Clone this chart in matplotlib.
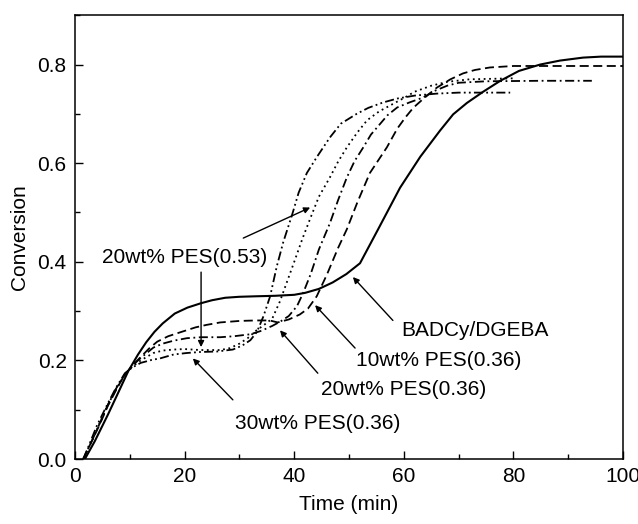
import matplotlib
matplotlib.use('Agg')
from matplotlib import pyplot as plt
from matplotlib.ticker import MultipleLocator

plt.rcParams['font.family'] = ['Liberation Sans', 'DejaVu Sans']

# BADCy/DGEBA (solid)
t_neat = [1.8, 3.6, 6, 7.9, 9.7, 11.5, 13, 14.5, 16, 18.2, 20.5, 23, 25, 27.4, 30, 33, 36.5,
          40, 42, 44.5, 47, 49.5, 52, 55.5, 59.3, 63, 66.6, 69, 71.5, 74.5, 77.6, 81,
          84.9, 88.5, 92.7, 96, 100]
c_neat = [0, 0.036, 0.09, 0.135, 0.178, 0.212, 0.237, 0.258, 0.275, 0.295, 0.307, 0.316,
          0.322, 0.327, 0.329, 0.33, 0.331, 0.333, 0.337, 0.345, 0.358, 0.375, 0.397, 0.47,
          0.55, 0.613, 0.666, 0.699, 0.722, 0.745, 0.767, 0.787, 0.80, 0.808, 0.814, 0.816,
          0.816]

# 10wt% PES(0.36) (dashed)
t_10 = [1.5, 3, 4.5, 6, 7.5, 9, 10.5, 12, 13.5, 15, 17, 19.2, 22, 24, 26.5, 30, 33, 35.5,
        37, 39, 41, 42.5, 44.1, 46, 48, 49.6, 51.5, 53.8, 56.9, 58.8, 60.3, 61.7, 63.5,
        66, 68.5, 70.8, 73, 75.7, 80, 85, 90, 100]
c_10 = [0, 0.035, 0.07, 0.108, 0.14, 0.17, 0.19, 0.207, 0.224, 0.238, 0.249, 0.257, 0.267,
        0.272, 0.277, 0.28, 0.281, 0.281, 0.277, 0.283, 0.293, 0.305, 0.33, 0.375, 0.428,
        0.466, 0.52, 0.58, 0.632, 0.67, 0.693, 0.712, 0.73, 0.753, 0.77, 0.782, 0.789,
        0.794, 0.797, 0.797, 0.797, 0.797]

# 20wt% PES(0.36) (dash-dot)
t_20 = [1.5, 3, 4.5, 6, 7.5, 9, 10.5, 12, 14.3, 16, 18, 20.4, 23, 26.5, 29, 32, 34, 36,
        37.5, 39, 40.5, 41.6, 43, 44.5, 46.5, 48, 49.6, 51, 52.6, 54, 55.7, 57, 58.8, 61,
        63.5, 65.5, 67.9, 70, 75, 85, 94.3]
c_20 = [0, 0.035, 0.072, 0.11, 0.143, 0.17, 0.19, 0.205, 0.226, 0.234, 0.240, 0.245, 0.247,
        0.247, 0.249, 0.253, 0.26, 0.27, 0.279, 0.29, 0.31, 0.336, 0.375, 0.425, 0.478,
        0.525, 0.571, 0.604, 0.632, 0.658, 0.68, 0.697, 0.713, 0.723, 0.733, 0.746, 0.757,
        0.763, 0.766, 0.767, 0.767]

# 20wt% PES(0.53) (dotted)
t_20h = [1.5, 3, 4.5, 6, 7.5, 9, 10.5, 12, 14.3, 16, 18, 20, 22.8, 25, 26.5, 28.3, 30, 31.5,
         33, 34.5, 36, 37.4, 38.7, 40, 41.5, 43, 44.5, 46.5, 48, 49.6, 51.5, 53.3, 55.5,
         57.5, 60, 62, 65, 68, 72, 80]
c_20h = [0, 0.035, 0.073, 0.11, 0.142, 0.17, 0.188, 0.2, 0.215, 0.22, 0.222, 0.223, 0.221,
         0.221, 0.221, 0.225, 0.234, 0.245, 0.26, 0.272, 0.285, 0.32, 0.36, 0.40, 0.447,
         0.49, 0.532, 0.571, 0.603, 0.632, 0.662, 0.687, 0.705, 0.717, 0.732, 0.745, 0.757,
         0.765, 0.77, 0.772]

# 30wt% PES(0.36) (dash-dot-dot)
t_30 = [1.5, 2.4, 4, 6, 7.5, 9.1, 10.5, 12, 14, 15.5, 18, 20.4, 22.8, 25.9, 28.8, 30.5, 32,
        33.2, 34.4, 35.6, 36.8, 38, 39.6, 40.8, 42.3, 44.1, 46.5, 48.5, 51.4, 53.5, 56.2,
        58.8, 62, 66, 70, 79.4]
c_30 = [0, 0.024, 0.068, 0.113, 0.145, 0.174, 0.186, 0.195, 0.201, 0.204, 0.212, 0.215,
        0.217, 0.218, 0.222, 0.23, 0.241, 0.258, 0.29, 0.33, 0.39, 0.44, 0.495, 0.54, 0.58,
        0.612, 0.652, 0.68, 0.70, 0.712, 0.723, 0.731, 0.737, 0.741, 0.743, 0.743]

fig = plt.figure(figsize=(6.38, 5.24), dpi=100)
ax = fig.add_axes([0.1176, 0.124, 0.859, 0.847])

lw = 1.3
ax.plot(t_neat, c_neat, color='black', lw=lw + 0.2, linestyle='-')
ax.plot(t_10, c_10, color='black', lw=lw, linestyle=(0, (5, 2.5)))
ax.plot(t_20, c_20, color='black', lw=lw, linestyle=(0, (5, 2, 1, 2)))
ax.plot(t_20h, c_20h, color='black', lw=lw, linestyle=(0, (1, 2)))
ax.plot(t_30, c_30, color='black', lw=lw, linestyle=(0, (5, 1.8, 1, 1.8, 1, 1.8)))

ax.set_xlim(0, 100)
ax.set_ylim(0, 0.9)
ax.xaxis.set_major_locator(MultipleLocator(20))
ax.xaxis.set_minor_locator(MultipleLocator(10))
ax.yaxis.set_major_locator(MultipleLocator(0.2))
ax.yaxis.set_minor_locator(MultipleLocator(0.1))
ax.yaxis.set_major_formatter(matplotlib.ticker.FormatStrFormatter('%.1f'))
ax.tick_params(which='both', direction='in', labelsize=15, width=1)
ax.tick_params(which='major', length=6, pad=6)
ax.tick_params(which='minor', length=3.5)
for s in ax.spines.values():
    s.set_linewidth(1.1)

ax.set_xlabel('Time (min)', fontsize=15, labelpad=6)
ax.set_ylabel('Conversion', fontsize=15, labelpad=6)

# annotations
arw = dict(arrowstyle='-|>', color='black', lw=1, mutation_scale=9, shrinkA=0, shrinkB=0)
fs = 15
ax.text(20, 0.409, '20wt% PES(0.53)', fontsize=fs, ha='center', va='center')
ax.annotate('', xy=(42.9, 0.51), xytext=(30.7, 0.448), arrowprops=arw)
ax.annotate('', xy=(23, 0.227), xytext=(23, 0.379), arrowprops=arw)

ax.text(44.2, 0.073, '30wt% PES(0.36)', fontsize=fs, ha='center', va='center')
ax.annotate('', xy=(21.5, 0.204), xytext=(28.8, 0.12), arrowprops=arw)

ax.text(59.9, 0.14, '20wt% PES(0.36)', fontsize=fs, ha='center', va='center')
ax.annotate('', xy=(37.4, 0.261), xytext=(44.3, 0.174), arrowprops=arw)

ax.text(66.3, 0.2, '10wt% PES(0.36)', fontsize=fs, ha='center', va='center')
ax.annotate('', xy=(43.8, 0.312), xytext=(51.1, 0.225), arrowprops=arw)

ax.text(73, 0.261, 'BADCy/DGEBA', fontsize=fs, ha='center', va='center')
ax.annotate('', xy=(50.7, 0.369), xytext=(58, 0.281), arrowprops=arw)

fig.savefig('out.png', dpi=100)
